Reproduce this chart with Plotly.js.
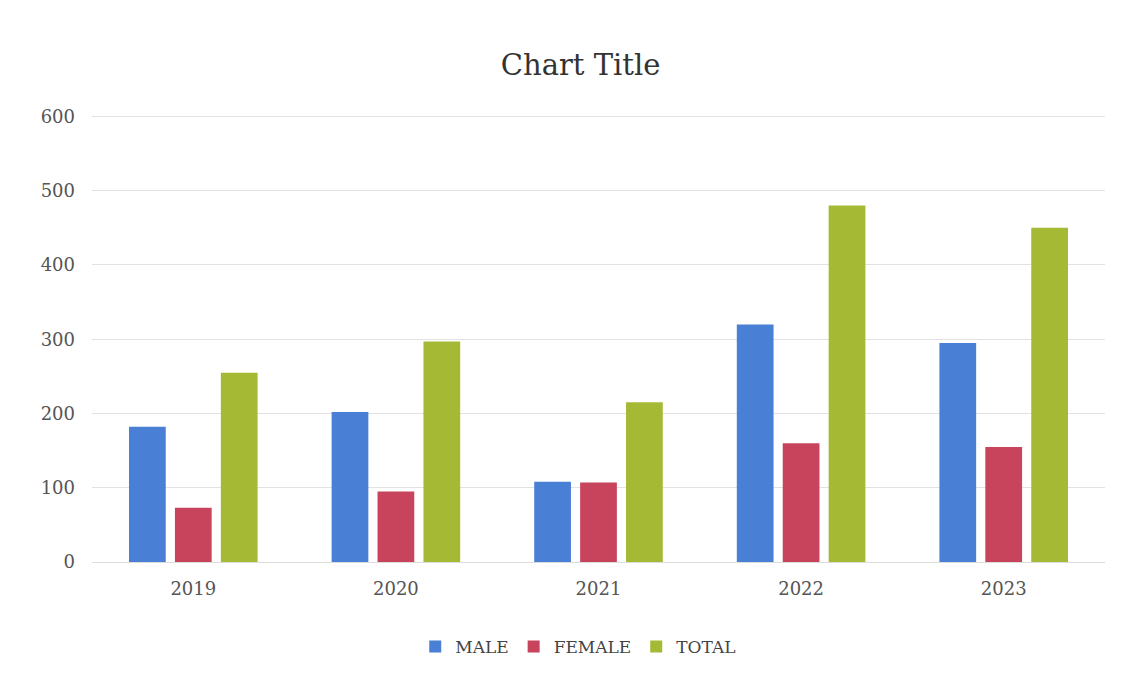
<!DOCTYPE html>
<html>
<head>
<meta charset="utf-8">
<script src="https://cdn.plot.ly/plotly-3.0.1.min.js"></script>
<style>html,body{margin:0;padding:0;background:#fff;}#chart{width:1123px;height:678px;}</style>
</head>
<body>
<div id="chart"></div>
<script>
const years = ['2019', '2020', '2021', '2022', '2023'];
const male = [182, 202, 108, 320, 295];
const female = [73, 95, 107, 160, 155];
const total = [255, 297, 215, 480, 450];
const seriesNames = ['MALE', 'FEMALE', 'TOTAL'];
const seriesColors = ['#4a7fd6', '#c8435c', '#a6b934'];
const yTicks = [0, 100, 200, 300, 400, 500, 600];

const fontFam = 'DejaVu Serif, Liberation Serif, serif';
const data = [male, female, total].map((vals, i) => ({
  type: 'bar',
  name: seriesNames[i],
  x: years,
  y: vals,
  marker: {color: seriesColors[i]},
  hoverinfo: 'x+y+name'
}));

const layout = {
  width: 1123,
  height: 678,
  paper_bgcolor: '#ffffff',
  plot_bgcolor: '#ffffff',
  margin: {l: 92, r: 18, t: 115, b: 116},
  title: {text: 'Chart Title', x: 0.517, xanchor: 'center', y: 0.905, yanchor: 'middle',
          font: {family: fontFam, size: 29, color: '#333333'}},
  barmode: 'group',
  bargap: 0.32,
  bargroupgap: 0.2,
  xaxis: {
    type: 'category',
    tickfont: {family: fontFam, size: 18, color: '#555555'},
    showgrid: false,
    showline: false,
    ticks: '',
    ticklabelstandoff: 14
  },
  yaxis: {
    range: [0, 602],
    tickvals: yTicks,
    ticktext: yTicks.map(String),
    tickfont: {family: fontFam, size: 18, color: '#555555'},
    gridcolor: '#e2e2e2',
    gridwidth: 1,
    zeroline: true,
    zerolinecolor: '#dcdcdc',
    zerolinewidth: 1,
    showline: false,
    ticks: '',
    ticklabelstandoff: 16
  },
  legend: {
    orientation: 'h',
    x: 0.48, xanchor: 'center',
    y: -0.19, yanchor: 'middle',
    font: {family: fontFam, size: 17, color: '#444444'},
    itemwidth: 30,
    traceorder: 'normal'
  },
  showlegend: true
};

Plotly.newPlot('chart', data, layout, {displayModeBar: false, staticPlot: true});
</script>
</body>
</html>
